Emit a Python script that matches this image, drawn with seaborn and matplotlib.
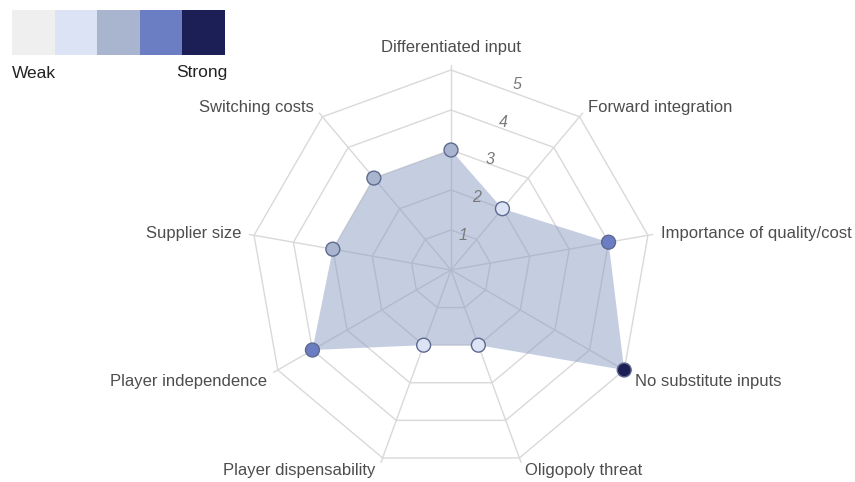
import numpy as np
import pandas as pd
import matplotlib
matplotlib.use("Agg")
import matplotlib.pyplot as plt
import seaborn as sns

# Supplier power factors, clockwise from the top
categories = [
    "Differentiated input",
    "Forward integration",
    "Importance of quality/cost",
    "No substitute inputs",
    "Oligopoly threat",
    "Player dispensability",
    "Player independence",
    "Supplier size",
    "Switching costs",
]
scores = [3, 2, 4, 5, 2, 2, 4, 3, 3]
scale_levels = [1, 2, 3, 4, 5]
level_colors = ["#efefef", "#dbe3f4", "#a9b4cf", "#6b7dc3", "#1c1f55"]
legend_labels = ["Weak", "Strong"]

sns.set_theme(style="white")
plt.rcParams["font.family"] = ["Liberation Sans", "DejaVu Sans"]

fig = plt.figure(figsize=(8.55, 4.82), dpi=100)
ax = fig.add_axes([0, 0, 1, 1])
ax.set_xlim(-451 / 40, (855 - 451) / 40)
ax.set_ylim((270 - 482) / 40, 270 / 40)
ax.set_aspect("equal")
ax.axis("off")

n = len(categories)
angles = np.deg2rad(np.arange(n) * 360.0 / n)
ux, uy = np.sin(angles), np.cos(angles)
rmax = max(scale_levels)

grid_col = "#d9d9d9"
# polygon rings
for lvl in scale_levels:
    xs = np.append(ux * lvl, ux[0] * lvl)
    ys = np.append(uy * lvl, uy[0] * lvl)
    ax.plot(xs, ys, color=grid_col, lw=1.0, zorder=1)
# spokes
for x, y in zip(ux, uy):
    ax.plot([0, x * (rmax + 0.12)], [0, y * (rmax + 0.12)], color=grid_col, lw=1.0, zorder=1)

# filled profile
vals = np.array(scores, dtype=float)
px, py = ux * vals, uy * vals
ax.fill(px, py, color="#8c9cc4", alpha=0.5, lw=0, zorder=2)

# ring value labels along the second spoke
lab_ang = np.deg2rad(19.5)
for lvl in scale_levels:
    r = lvl - 0.08
    ax.text(np.sin(lab_ang) * r, np.cos(lab_ang) * r, str(lvl), fontsize=11.5,
            style="italic", color="#7a7a7a", ha="center", va="center", zorder=3)

# markers coloured by score
df = pd.DataFrame({"x": px, "y": py, "score": scores})
palette = {lvl: c for lvl, c in zip(scale_levels, level_colors)}
sns.scatterplot(data=df, x="x", y="y", hue="score", palette=palette, s=100,
                edgecolor="#5d6a8e", linewidth=1.0, legend=False, ax=ax, zorder=4)

# category labels
txt_col = "#4d4d4d"
for k, name in enumerate(categories):
    deg = k * 360.0 / n
    if k == 0:
        x, y, ha, va = 0.0, 5.57, "center", "center"
    elif deg in (160.0, 200.0):
        x = 1.85 if deg < 180 else -1.9
        y = -5.0
        ha = "left" if deg < 180 else "right"
        va = "center"
    else:
        r = 5.32
        x, y = np.sin(angles[k]) * r, np.cos(angles[k]) * r
        ha = "left" if deg < 180 else "right"
        va = "center"
        if deg in (120.0, 240.0):
            y -= 0.13
        else:
            y -= 0.02
    ax.text(x, y, name, fontsize=12, color=txt_col, ha=ha, va=va, zorder=5)

# weak-to-strong colour key
kax = fig.add_axes([12 / 855, 1 - 55 / 482, 212 / 855, 45 / 482])
kax.imshow(np.arange(len(level_colors))[None, :],
           cmap=matplotlib.colors.ListedColormap(level_colors), aspect="auto")
kax.set_xticks([])
kax.set_yticks([])
for s in kax.spines.values():
    s.set_visible(False)
fig.text(12 / 855, 1 - 73 / 482, legend_labels[0], fontsize=12.5, color="#222222",
         ha="left", va="center")
fig.text(227 / 855, 1 - 73 / 482, legend_labels[1], fontsize=12.5, color="#222222",
         ha="right", va="center")

fig.savefig("out.png", dpi=100)
